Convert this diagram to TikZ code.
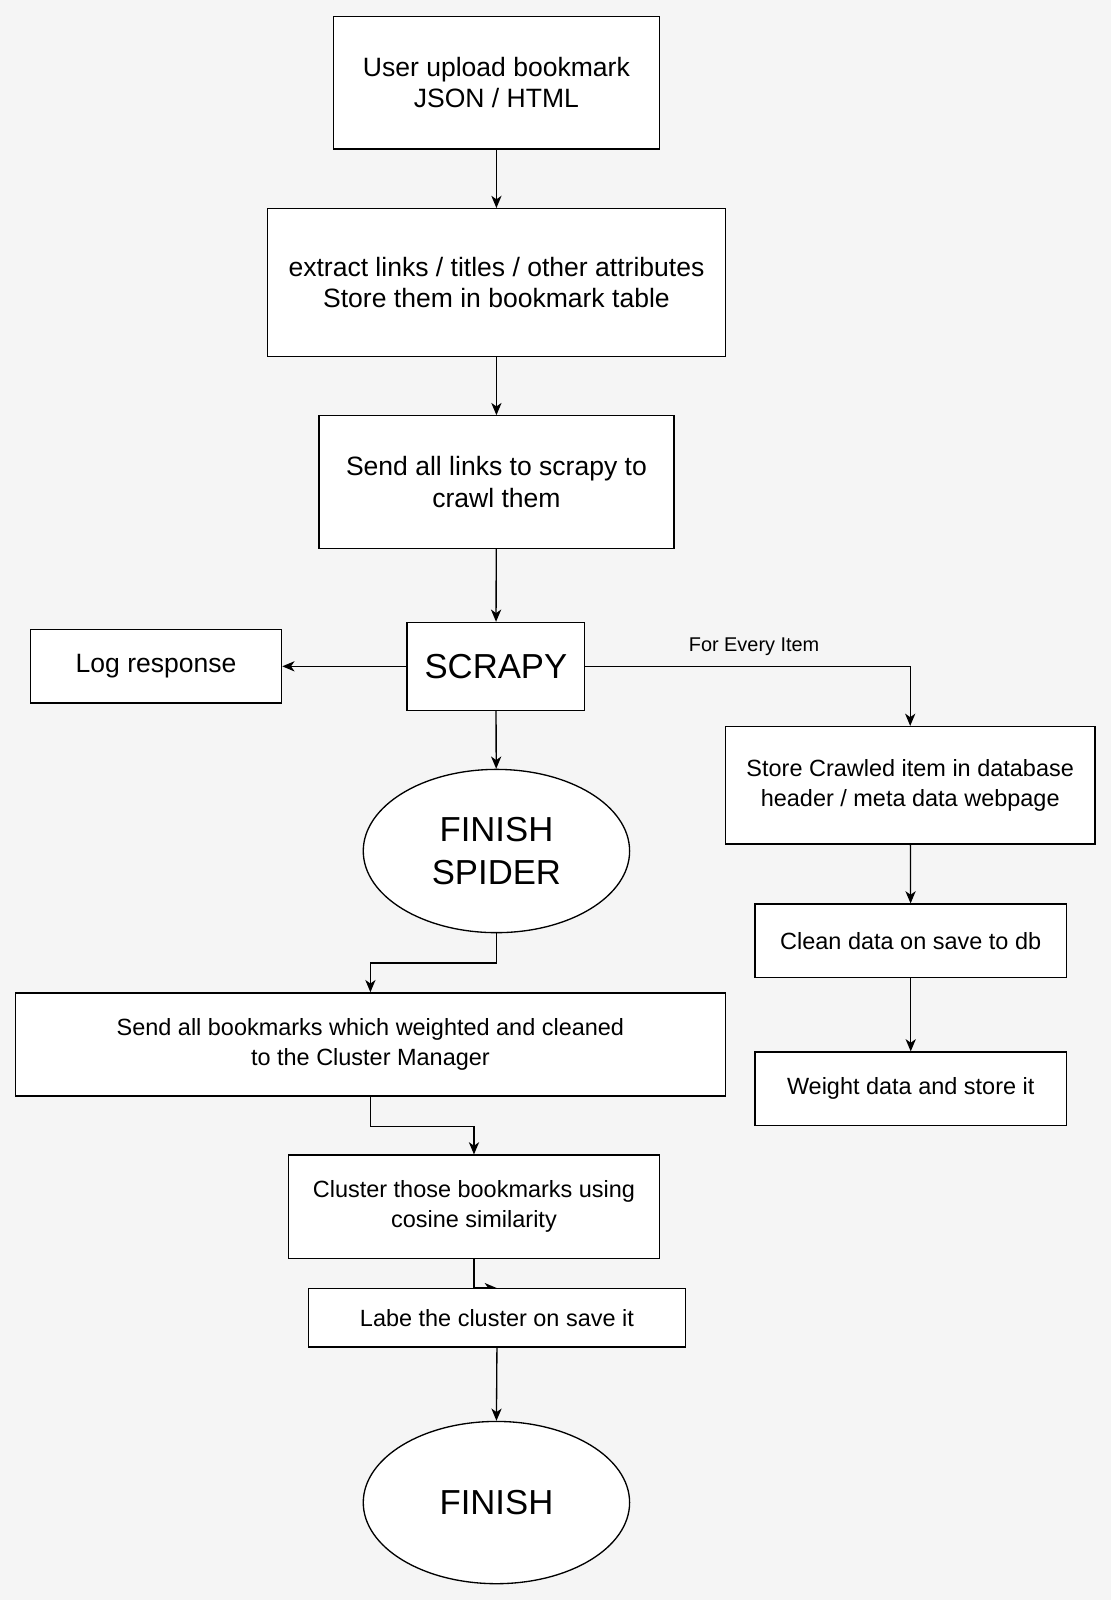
\documentclass[tikz,border=0pt]{standalone}
\usepackage{fontspec}
\setmainfont{Liberation Sans}
\usetikzlibrary{arrows.meta,shapes.geometric}
\pgfdeclarelayer{back}
\pgfdeclarelayer{bg}
\pgfsetlayers{back,bg,main}
\definecolor{pagebg}{HTML}{F5F5F5}
\tikzset{
  every node/.style={align=center, inner sep=0pt, text=black},
  box/.style={draw=black, fill=white, line width=1.3pt, rectangle},
  oval/.style={draw=black, fill=white, line width=1.3pt, ellipse},
  big/.style={font=\fontsize{26}{31}\selectfont},
  huge/.style={font=\fontsize{34}{42}\selectfont},
  mid/.style={font=\fontsize{23}{29}\selectfont},
  small/.style={font=\fontsize{19.5}{23}\selectfont},
  arr/.style={draw=black, line width=1.3pt, -{Stealth[length=12pt,width=10pt,inset=3.5pt]}},
}
\begin{document}
\begin{tikzpicture}[x=1pt,y=-1pt]
\begin{pgfonlayer}{back}
\fill[pagebg] (0,0) rectangle (1089,1568);
\end{pgfonlayer}
\useasboundingbox (0,0) rectangle (1089,1568);
\node[box,big,minimum width=319pt,minimum height=130pt] (b1) at (486.5,81) {User upload bookmark\\JSON / HTML};
\node[box,big,minimum width=449pt,minimum height=145pt] (b2) at (486.5,277) {extract links / titles / other attributes\\Store them in bookmark table};
\node[box,big,minimum width=348pt,minimum height=130pt] (b3) at (486.5,472.5) {Send all links to scrapy to\\crawl them};
\node[box,huge,minimum width=174pt,minimum height=86pt] (scr) at (486,653) {SCRAPY};
\node[box,big,minimum width=246pt,minimum height=72pt] (log) at (153,653) {Log response};
\node[oval,huge,minimum width=261pt,minimum height=160pt] (fs) at (486.5,834) {FINISH\\SPIDER};
\node[box,mid,minimum width=362pt,minimum height=115pt] (st) at (892,769.5) {Store Crawled item in database\\header / meta data webpage};
\node[box,mid,minimum width=305pt,minimum height=72pt] (cd) at (892.5,922) {Clean data on save to db};
\node[box,mid,minimum width=305pt,minimum height=72pt] (wt) at (892.5,1067) {Weight data and store it};
\node[box,mid,minimum width=696pt,minimum height=101pt] (sb) at (363,1023.5) {Send all bookmarks which weighted and cleaned\\to the Cluster Manager};
\node[box,mid,minimum width=363pt,minimum height=101pt] (cl) at (464.5,1182.5) {Cluster those bookmarks using\\cosine similarity};
\node[box,mid,minimum width=370pt,minimum height=57pt] (lab) at (487,1291.5) {Labe the cluster on save it};
\node[oval,huge,minimum width=261pt,minimum height=159pt] (fin) at (486.5,1472.5) {FINISH};
\node[small,anchor=base] (lbl) at (739,638) {For Every Item};

\draw[arr] (b1) -- (b2);
\draw[arr] (b2) -- (b3);
\draw[arr] (b3) -- (scr);
\draw[arr] (scr) -- (log);
\draw[arr] (scr) -- (fs);
\draw[arr] (scr.east) -| (st.north);
\draw[arr] (st) -- (cd);
\draw[arr] (cd) -- (wt);
\draw[arr] (fs.south) -- ++(0,29) -| (sb.north);
\draw[arr] (sb.south) -- ++(0,29) -| (cl.north);
\begin{pgfonlayer}{bg}
\draw[arr] (cl.south) |- (lab.north);
\end{pgfonlayer}
\draw[arr] (lab.south) -- (fin.north);
\end{tikzpicture}
\end{document}
